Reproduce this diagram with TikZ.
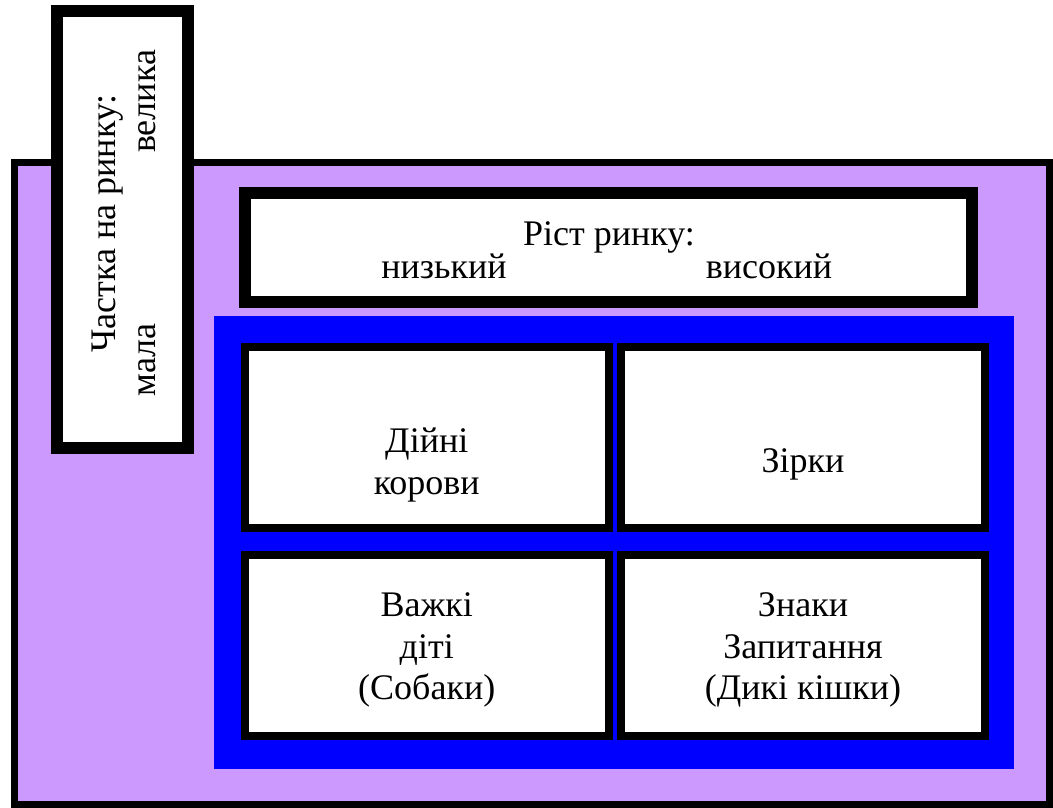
\documentclass[tikz,border=0pt]{standalone}
\usepackage{fontspec}
\setmainfont{Liberation Serif}
\definecolor{bgpurple}{HTML}{CC99FF}
\definecolor{bgblue}{HTML}{0000FF}
\begin{document}
\begin{tikzpicture}[x=1pt,y=-1pt,
  box/.style={draw=black,fill=white,rectangle,inner sep=0pt,outer sep=0pt},
  thickbox/.style={box,line width=12pt},
  cellbox/.style={box,line width=8pt},
  txt/.style={font=\fontsize{36}{41.7}\selectfont,inner sep=0pt,align=center}]
\useasboundingbox (0,0) rectangle (1053,808);
\node[draw=black,fill=bgpurple,line width=7.5pt,rectangle,inner sep=0pt,minimum width=1035pt,minimum height=642pt] (outer) at (532,483.5) {};
\node[thickbox,minimum width=131pt,minimum height=437pt] (share) at (122,229.5) {};
\node[thickbox,minimum width=727pt,minimum height=109pt] (growth) at (608.5,247.5) {};
\node[fill=bgblue,rectangle,inner sep=0pt,minimum width=800pt,minimum height=453pt] (matrix) at (614,542.5) {};
\node[cellbox,minimum width=363.5pt,minimum height=181.3pt] (tl) at (426.75,437.65) {};
\node[cellbox,minimum width=364pt,minimum height=181.3pt] (tr) at (803,437.65) {};
\node[cellbox,minimum width=363.5pt,minimum height=181.5pt] (bl) at (426.75,645.25) {};
\node[cellbox,minimum width=364pt,minimum height=181.5pt] (br) at (803,645.25) {};
% left box texts
\node[txt,rotate=90,anchor=base] (sharelbl) at (115,223.5) {Частка на ринку:};
\node[txt,rotate=90,anchor=base] (small) at (155,360) {мала};
\node[txt,rotate=90,anchor=base] (large) at (155,101.5) {велика};
% top box texts
\node[txt,anchor=base] (growthlbl) at (609,245) {Ріст ринку:};
\node[txt,anchor=base] (low) at (444,278) {низький};
\node[txt,anchor=base] (high) at (769,278) {високий};
% cell texts
\node[txt] (cows) at (426.75,465) {Дійні\\корови};
\node[txt] (stars) at (803,464) {Зірки};
\node[txt] (dogs) at (426.75,650) {Важкі\\діті\\(Собаки)};
\node[txt] (cats) at (803,650) {Знаки\\Запитання\\(Дикі кішки)};
\end{tikzpicture}
\end{document}
